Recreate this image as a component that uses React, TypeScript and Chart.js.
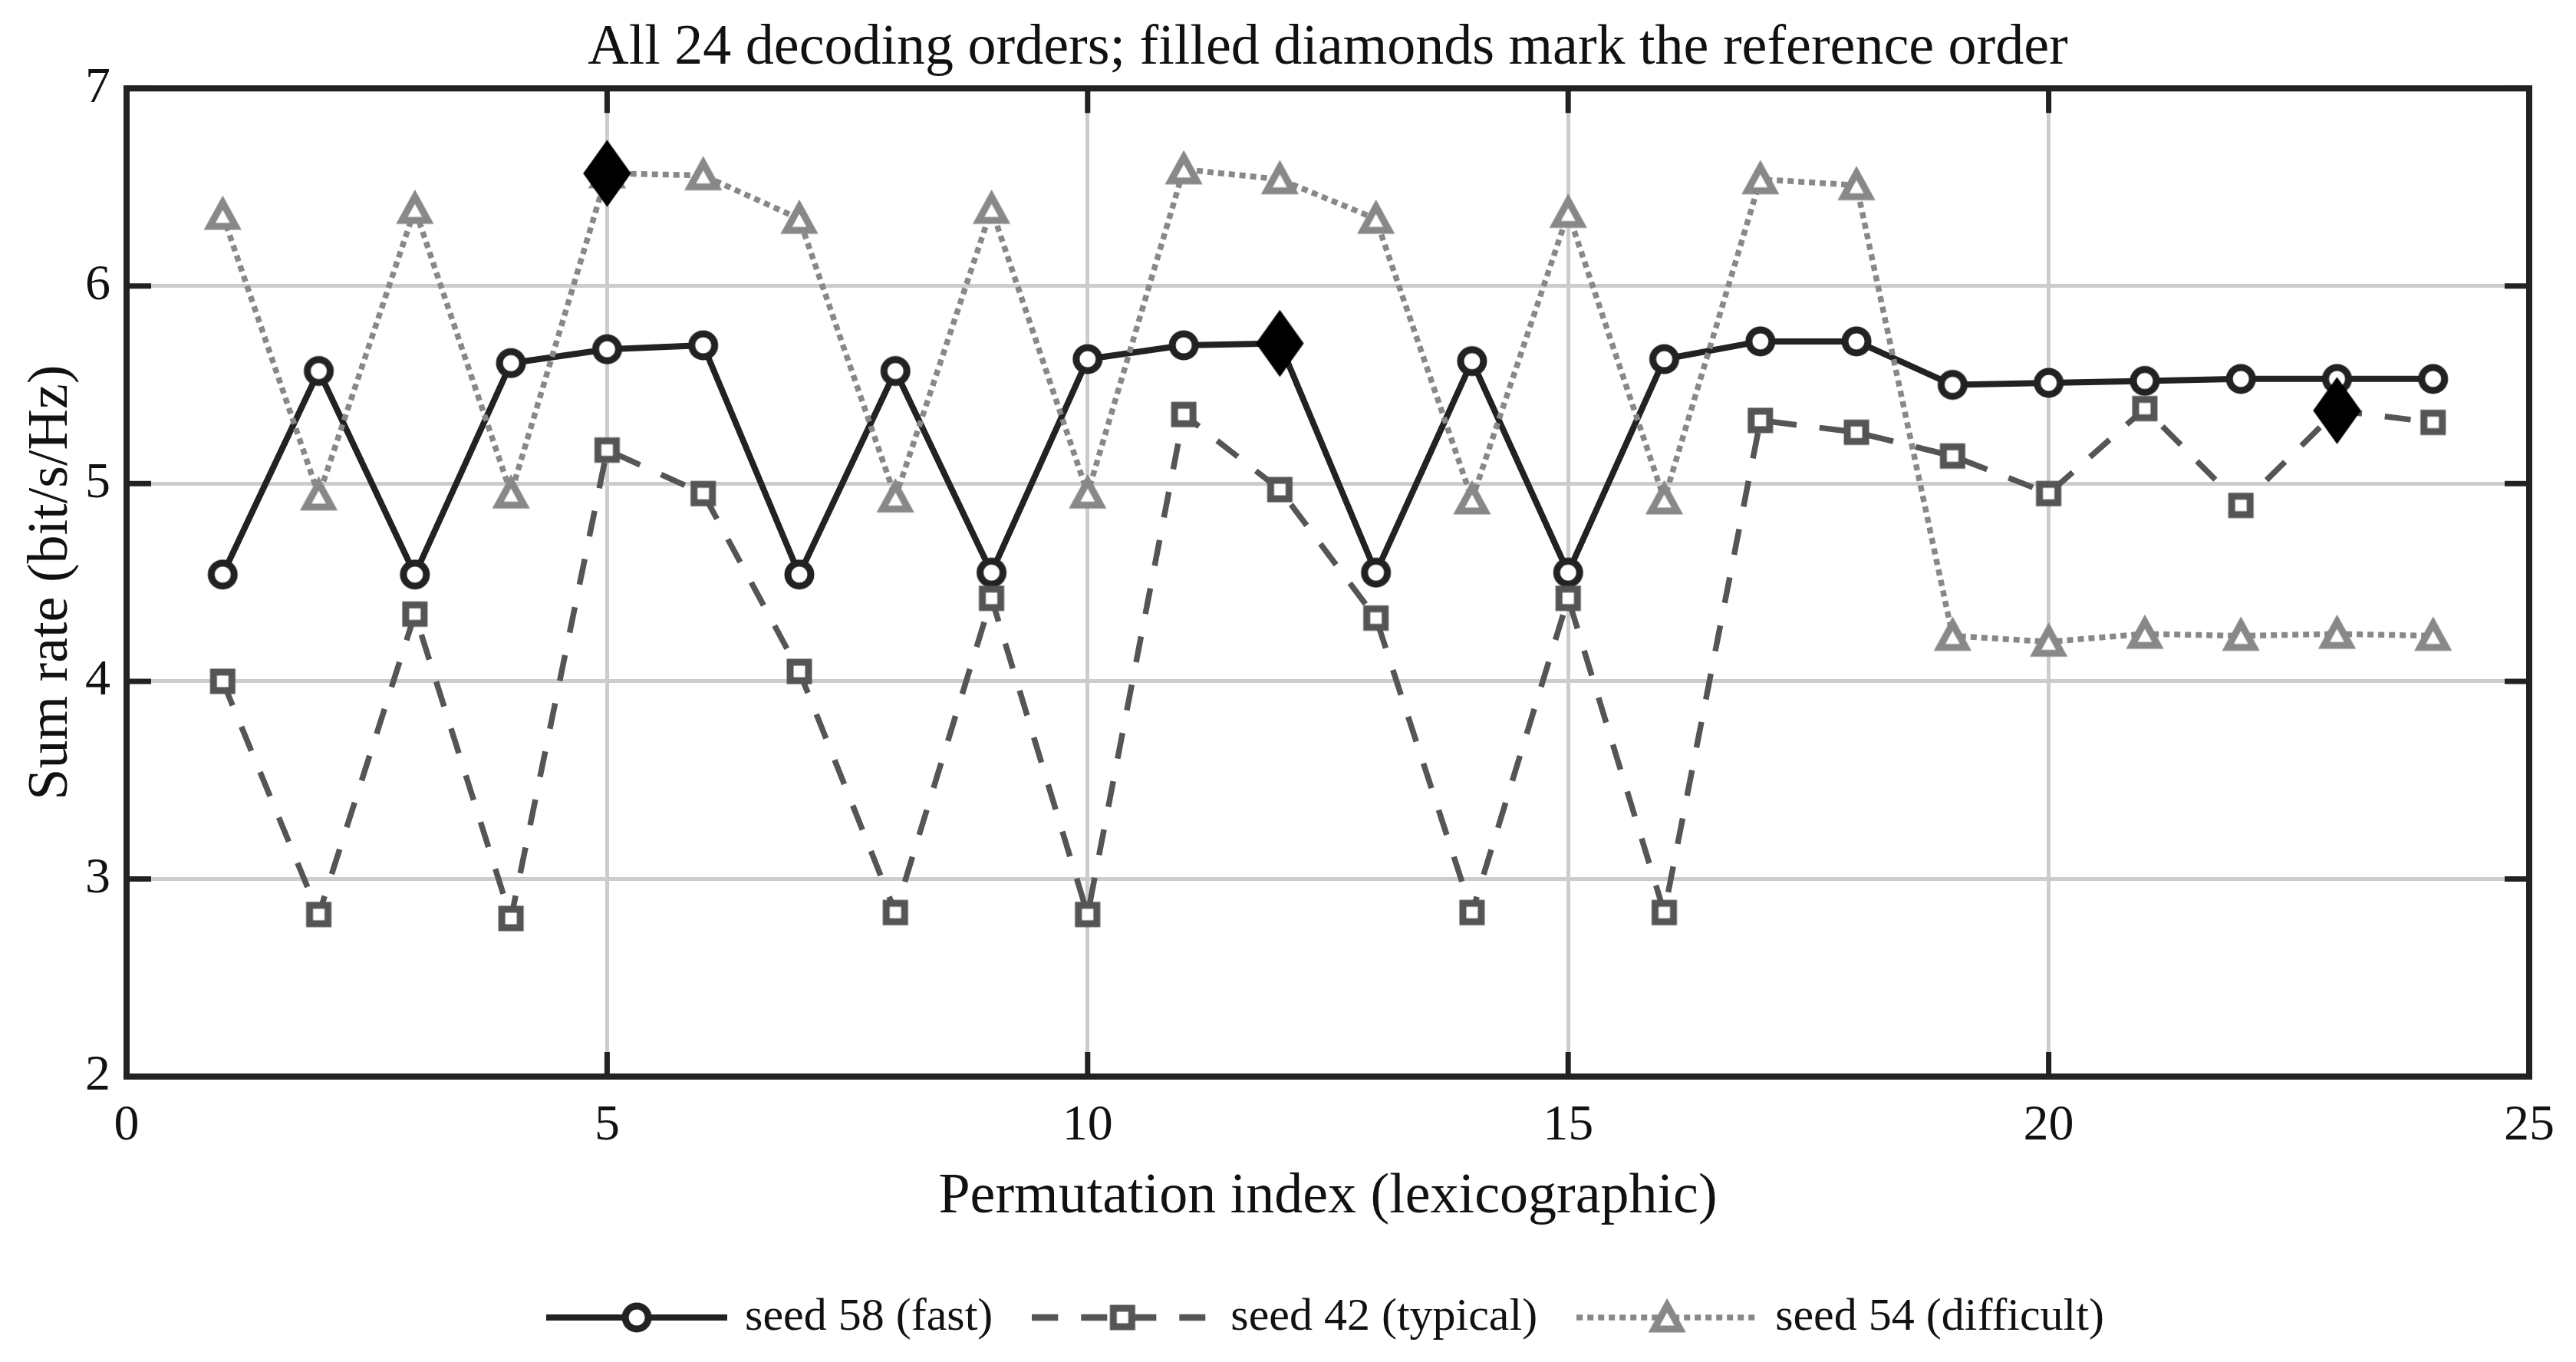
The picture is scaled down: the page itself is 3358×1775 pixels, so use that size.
import { useEffect, useRef } from "react"
import Chart from "chart.js/auto"

// permutation index (lexicographic) of the 24 decoding orders
const permIndex = [1, 2, 3, 4, 5, 6, 7, 8, 9, 10, 11, 12, 13, 14, 15, 16, 17, 18, 19, 20, 21, 22, 23, 24]

// sum rate in bit/s/Hz
const seed58 = [4.54, 5.57, 4.54, 5.61, 5.68, 5.7, 4.54, 5.57, 4.55, 5.63, 5.7, 5.71, 4.55, 5.62, 4.55, 5.63, 5.72, 5.72, 5.5, 5.51, 5.52, 5.53, 5.53, 5.53]
const seed42 = [4.0, 2.82, 4.34, 2.8, 5.17, 4.95, 4.05, 2.83, 4.42, 2.82, 5.35, 4.97, 4.32, 2.83, 4.42, 2.83, 5.32, 5.26, 5.14, 4.95, 5.38, 4.89, 5.37, 5.31]
const seed54 = [6.36, 4.94, 6.39, 4.95, 6.57, 6.56, 6.34, 4.93, 6.39, 4.95, 6.59, 6.54, 6.34, 4.92, 6.37, 4.92, 6.54, 6.51, 4.23, 4.2, 4.24, 4.23, 4.24, 4.23]

const seriesLabels = ["seed 58 (fast)", "seed 42 (typical)", "seed 54 (difficult)"]
// index of the reference order for each seed (same order as above)
const referenceOrder = [12, 23, 5]

const xTickValues = [0, 5, 10, 15, 20, 25]
const yTickValues = [2, 3, 4, 5, 6, 7]

const FONT = "'Liberation Serif', 'Times New Roman', serif"
const W = 3358
const H = 1775

type Marker = "circle" | "square" | "triangle" | "diamond"

interface SeriesStyle {
  values: number[]
  label: string
  color: string
  width: number
  legendWidth: number
  dash: number[]
  marker: Marker
}

const styles: SeriesStyle[] = [
  { values: seed58, label: seriesLabels[0], color: "#222222", width: 8, legendWidth: 8, dash: [], marker: "circle" },
  { values: seed42, label: seriesLabels[1], color: "#555555", width: 7.5, legendWidth: 8.5, dash: [34, 30], marker: "square" },
  { values: seed54, label: seriesLabels[2], color: "#888888", width: 7.5, legendWidth: 7.5, dash: [8, 6], marker: "triangle" },
]

function drawMarker(ctx: CanvasRenderingContext2D, kind: Marker, cx: number, cy: number, color: string) {
  ctx.save()
  ctx.setLineDash([])
  ctx.lineJoin = "miter"
  ctx.strokeStyle = color
  ctx.fillStyle = "#ffffff"
  ctx.beginPath()
  if (kind === "circle") {
    ctx.lineWidth = 9
    ctx.arc(cx, cy, 15, 0, Math.PI * 2)
  } else if (kind === "square") {
    ctx.lineWidth = 9
    ctx.rect(cx - 12, cy - 12, 24, 24)
  } else if (kind === "triangle") {
    ctx.lineWidth = 9
    ctx.moveTo(cx, cy - 16)
    ctx.lineTo(cx + 17, cy + 15)
    ctx.lineTo(cx - 17, cy + 15)
    ctx.closePath()
  } else {
    ctx.fillStyle = "#000000"
    ctx.strokeStyle = "#000000"
    ctx.lineWidth = 2
    ctx.moveTo(cx, cy - 42)
    ctx.lineTo(cx + 30, cy)
    ctx.lineTo(cx, cy + 42)
    ctx.lineTo(cx - 30, cy)
    ctx.closePath()
  }
  ctx.fill()
  ctx.stroke()
  ctx.restore()
}

function markerCanvas(kind: Marker, color: string, w = 70, h = 70) {
  const c = document.createElement("canvas")
  c.width = w
  c.height = h
  const ctx = c.getContext("2d")
  if (ctx) drawMarker(ctx, kind, w / 2, h / 2, color)
  return c
}

function legendCanvas(s: SeriesStyle) {
  const c = document.createElement("canvas")
  c.width = 236
  c.height = 64
  const ctx = c.getContext("2d")
  if (ctx) {
    ctx.strokeStyle = s.color
    ctx.lineWidth = s.legendWidth
    ctx.lineCap = "butt"
    ctx.setLineDash(s.dash)
    ctx.beginPath()
    ctx.moveTo(0, 32)
    ctx.lineTo(236, 32)
    ctx.stroke()
    drawMarker(ctx, s.marker, 118, 32, s.color)
  }
  return c
}

// frame and inward tick marks on all four sides
const framePlugin = {
  id: "frame",
  afterDatasetsDraw(chart: Chart) {
    const { ctx, chartArea, scales } = chart
    const { left, right, top, bottom } = chartArea
    const tick = 32
    ctx.save()
    ctx.strokeStyle = "#222222"
    ctx.lineWidth = 7
    ctx.beginPath()
    xTickValues.forEach((v) => {
      const px = scales.x.getPixelForValue(v)
      ctx.moveTo(px, bottom)
      ctx.lineTo(px, bottom - tick)
      ctx.moveTo(px, top)
      ctx.lineTo(px, top + tick)
    })
    yTickValues.forEach((v) => {
      const py = scales.y.getPixelForValue(v)
      ctx.moveTo(left, py)
      ctx.lineTo(left + tick, py)
      ctx.moveTo(right, py)
      ctx.lineTo(right - tick, py)
    })
    ctx.stroke()
    ctx.lineWidth = 8
    ctx.strokeRect(left, top, right - left, bottom - top)
    ctx.restore()
  },
}

const App = () => {
  const chartRef = useRef<HTMLCanvasElement>(null)
  const chartInstance = useRef<Chart | null>(null)

  useEffect(() => {
    document.body.style.margin = "0"
    if (!chartRef.current) return
    if (chartInstance.current) chartInstance.current.destroy()

    const ctx = chartRef.current.getContext("2d")
    if (!ctx) return

    const lineSets = styles.map((s, i) => ({
      type: "line" as const,
      label: s.label,
      data: permIndex.map((x, k) => ({ x, y: s.values[k] })),
      borderColor: s.color,
      borderWidth: s.width,
      borderDash: s.dash,
      borderJoinStyle: "round" as const,
      pointStyle: markerCanvas(s.marker, s.color),
      pointRadius: 16,
      pointHoverRadius: 16,
      tension: 0,
      fill: false,
      order: 3 - i,
    }))

    const refSet = {
      type: "line" as const,
      label: "reference order",
      data: styles.map((s, i) => ({
        x: referenceOrder[i],
        y: s.values[permIndex.indexOf(referenceOrder[i])],
      })),
      showLine: false,
      pointStyle: markerCanvas("diamond", "#000000", 70, 92),
      pointRadius: 20,
      pointHoverRadius: 20,
      order: 0,
    }

    const legendItems = styles.map((s, i) => ({
      text: s.label,
      pointStyle: legendCanvas(s),
      fillStyle: "#ffffff",
      strokeStyle: s.color,
      lineWidth: 0,
      hidden: false,
      datasetIndex: i,
      fontColor: "#111111",
    }))

    chartInstance.current = new Chart(ctx, {
      type: "line",
      data: { datasets: [...lineSets, refSet] },
      plugins: [framePlugin],
      options: {
        responsive: false,
        animation: false,
        events: [],
        layout: { padding: { left: 0, right: 61, top: 0, bottom: 18 } },
        scales: {
          x: {
            type: "linear",
            min: 0,
            max: 25,
            afterBuildTicks: (scale) => {
              scale.ticks = xTickValues.map((value) => ({ value }))
            },
            afterFit: (scale) => {
              scale.height = 226
            },
            border: { display: false },
            grid: { color: "#cccccc", lineWidth: 5, drawTicks: false },
            ticks: {
              padding: 25,
              maxRotation: 0,
              autoSkip: false,
              color: "#111111",
              font: { size: 66, family: FONT },
            },
            title: {
              display: true,
              text: "Permutation index (lexicographic)",
              color: "#111111",
              font: { size: 74, family: FONT },
              padding: { top: 0, bottom: 23.6 },
            },
          },
          y: {
            type: "linear",
            min: 2,
            max: 7,
            afterBuildTicks: (scale) => {
              scale.ticks = yTickValues.map((value) => ({ value }))
            },
            afterFit: (scale) => {
              scale.width = 165
            },
            border: { display: false },
            grid: { color: "#cccccc", lineWidth: 5, drawTicks: false },
            ticks: {
              padding: 21,
              color: "#111111",
              font: { size: 66, family: FONT },
            },
            title: {
              display: true,
              text: "Sum rate (bit/s/Hz)",
              color: "#111111",
              font: { size: 74, family: FONT },
              padding: { top: 23, bottom: 0 },
            },
          },
        },
        plugins: {
          title: {
            display: true,
            text: "All 24 decoding orders; filled diamonds mark the reference order",
            color: "#111111",
            fullSize: false,
            font: { size: 74, family: FONT, weight: "normal" },
            padding: { top: 19, bottom: 7.4 },
          },
          legend: {
            display: true,
            position: "bottom",
            fullSize: false,
            labels: {
              usePointStyle: true,
              pointStyleWidth: 222,
              padding: 58,
              color: "#111111",
              font: { size: 60, family: FONT },
              generateLabels: () => legendItems,
            },
          },
          tooltip: { enabled: false },
        },
      },
    })

    return () => {
      if (chartInstance.current) {
        chartInstance.current.destroy()
        chartInstance.current = null
      }
    }
  }, [])

  return (
    <div style={{ position: "absolute", left: 0, top: 0, width: W, height: H }}>
      <canvas ref={chartRef} width={W} height={H} style={{ width: W, height: H }} />
    </div>
  )
}

export default App
